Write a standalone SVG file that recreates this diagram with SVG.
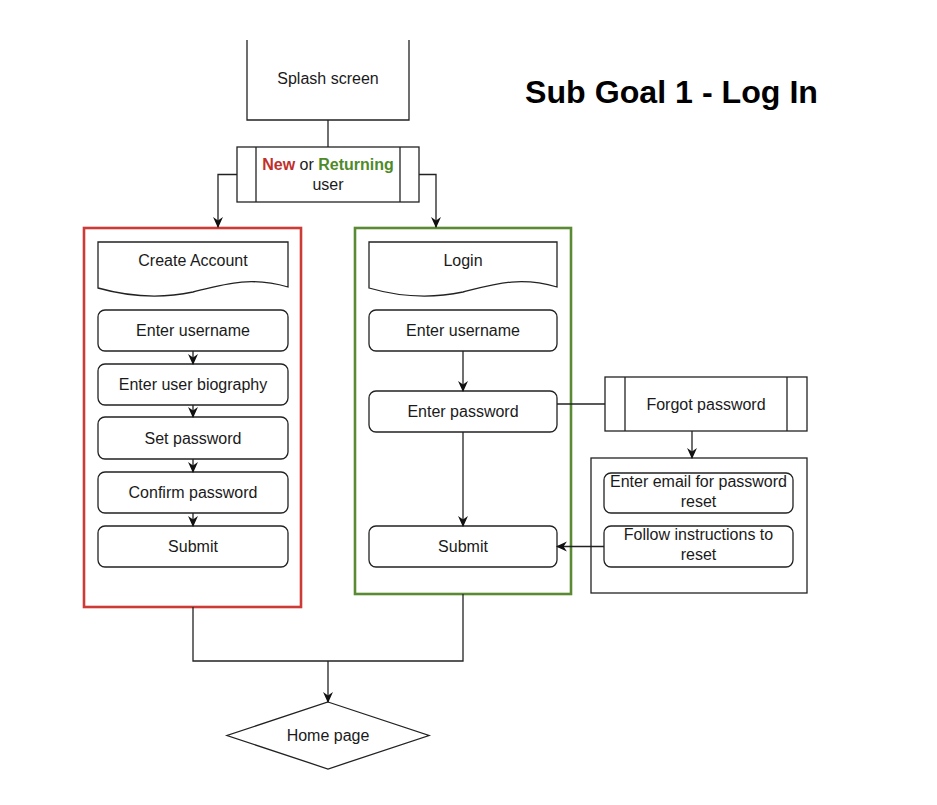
<svg xmlns="http://www.w3.org/2000/svg" width="937" height="805" viewBox="0 0 937 805">
<style>
text{font-family:"Liberation Sans",Arial,sans-serif;font-size:16px;fill:#1a1a1a;text-anchor:middle}
.n{fill:#fff;stroke:#222;stroke-width:1.3}
.c{fill:none;stroke:#222;stroke-width:1.3}
.title{font-size:31px;font-weight:bold;fill:#000;text-anchor:start}
</style>
<defs>
<marker id="ah" markerUnits="userSpaceOnUse" markerWidth="11" markerHeight="11" viewBox="0 0 10 10" refX="9" refY="5" orient="auto">
<path d="M0,0.5 L10,5 L0,9.5 L3,5 z" fill="#111"/>
</marker>
</defs>
<rect width="937" height="805" fill="#fff"/>
<text class="title" x="525" y="103" textLength="293" lengthAdjust="spacingAndGlyphs">Sub Goal 1 - Log In</text>

<g id="containers">
<rect id="create-group" x="84" y="228" width="217" height="379" fill="none" stroke="#cc3b36" stroke-width="2.6"/>
<rect id="login-group" x="355" y="228" width="216" height="366" fill="none" stroke="#5a8a34" stroke-width="2.6"/>
<rect id="reset-group" x="591" y="458" width="216" height="135" class="n"/>
</g>

<g id="splash">
<path d="M247 40 V120 H409 V40" class="n"/>
<text x="328" y="84">Splash screen</text>
</g>
<g id="new-returning">
<rect x="237" y="147" width="182" height="55" class="n"/>
<line x1="256" y1="147" x2="256" y2="202" class="c"/>
<line x1="400" y1="147" x2="400" y2="202" class="c"/>
<text x="328" y="169.5"><tspan font-weight="bold" fill="#c0302b">New</tspan> or <tspan font-weight="bold" fill="#4e8a2a">Returning</tspan></text>
<text x="328" y="189.5">user</text>
</g>

<g id="create-account">
<path d="M98 242 H288 V287 C250 276 225 284 193 292 C160 299 130 297 98 288 Z" class="n"/>
<text x="193" y="265.5">Create Account</text>
</g>
<g id="c-username"><rect x="98" y="310" width="190" height="41" rx="7" class="n"/><text x="193" y="336">Enter username</text></g>
<g id="c-bio"><rect x="98" y="364" width="190" height="41" rx="7" class="n"/><text x="193" y="390">Enter user biography</text></g>
<g id="c-setpw"><rect x="98" y="417" width="190" height="42" rx="7" class="n"/><text x="193" y="443.5">Set password</text></g>
<g id="c-confirm"><rect x="98" y="472" width="190" height="41" rx="7" class="n"/><text x="193" y="498">Confirm password</text></g>
<g id="c-submit"><rect x="98" y="526" width="190" height="41" rx="7" class="n"/><text x="193" y="552">Submit</text></g>

<g id="login">
<path d="M369 242 H557 V287 C520 276 495 284 463 292 C430 299 400 297 369 288 Z" class="n"/>
<text x="463" y="265.5">Login</text>
</g>
<g id="l-username"><rect x="369" y="310" width="188" height="41" rx="7" class="n"/><text x="463" y="336">Enter username</text></g>
<g id="l-password"><rect x="369" y="391" width="188" height="41" rx="7" class="n"/><text x="463" y="416.5">Enter password</text></g>
<g id="l-submit"><rect x="369" y="526" width="188" height="41" rx="7" class="n"/><text x="463" y="552">Submit</text></g>

<g id="forgot">
<rect x="605" y="377" width="202" height="54" class="n"/>
<line x1="625" y1="377" x2="625" y2="431" class="c"/>
<line x1="787" y1="377" x2="787" y2="431" class="c"/>
<text x="706" y="409.5">Forgot password</text>
</g>
<g id="reset-email"><rect x="604" y="473" width="189" height="40" rx="7" class="n"/><text x="698.5" y="487">Enter email for password</text><text x="698.5" y="507">reset</text></g>
<g id="reset-follow"><rect x="604" y="526" width="189" height="41" rx="7" class="n"/><text x="698.5" y="540">Follow instructions to</text><text x="698.5" y="560">reset</text></g>

<g id="home">
<path d="M328 702 L429 735.5 L328 769 L227 735.5 Z" class="n"/>
<text x="328" y="741">Home page</text>
</g>

<g id="connectors">
<line x1="328" y1="120" x2="328" y2="147" class="c"/>
<path d="M237 174.5 H218 V227" class="c" marker-end="url(#ah)"/>
<path d="M419 174.5 H436 V227" class="c" marker-end="url(#ah)"/>
<line x1="193" y1="351" x2="193" y2="364" class="c" marker-end="url(#ah)"/>
<line x1="193" y1="405" x2="193" y2="417" class="c" marker-end="url(#ah)"/>
<line x1="193" y1="459" x2="193" y2="472" class="c" marker-end="url(#ah)"/>
<line x1="193" y1="513" x2="193" y2="526" class="c" marker-end="url(#ah)"/>
<line x1="463" y1="351" x2="463" y2="391" class="c" marker-end="url(#ah)"/>
<line x1="463" y1="432" x2="463" y2="526" class="c" marker-end="url(#ah)"/>
<line x1="557" y1="404" x2="605" y2="404" class="c"/>
<line x1="692" y1="431" x2="692" y2="458" class="c" marker-end="url(#ah)"/>
<line x1="604" y1="546.5" x2="557" y2="546.5" class="c" marker-end="url(#ah)"/>
<path d="M193 607 V661 H463 V594" class="c"/>
<line x1="328" y1="661" x2="328" y2="702" class="c" marker-end="url(#ah)"/>
</g>
</svg>
